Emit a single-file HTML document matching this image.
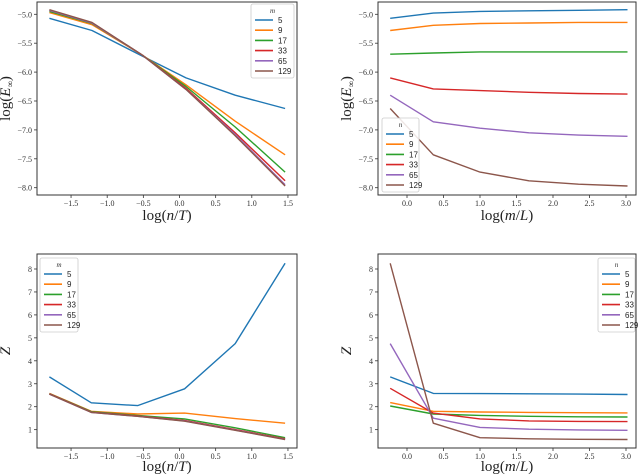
<!DOCTYPE html>
<html><head><meta charset="utf-8"><style>
html,body{margin:0;padding:0;background:#fff;}
svg{display:block;font-family:"Liberation Serif",serif;}
.tick{font-size:8px;fill:#333;}
.lab{font-size:15px;fill:#222;}
.leg{font-size:8px;fill:#222;font-family:"Liberation Sans",sans-serif;}
</style></head><body>
<svg id="chart" width="640" height="475" viewBox="0 0 640 475" xmlns="http://www.w3.org/2000/svg"></svg>
<script>
const colors=["#1f77b4","#ff7f0e","#2ca02c","#d62728","#9467bd","#8c564b"];
const seriesLabels=["5","9","17","33","65","129"];
const xNT=[-1.8,-1.21,-0.52,0.09,0.77,1.46];
const xNTz=[-1.8,-1.22,-0.58,0.07,0.77,1.46];
const xML=[-0.23,0.36,1.0,1.67,2.35,3.02];
const errNT=[
[-5.07,-5.28,-5.72,-6.1,-6.4,-6.63],
[-4.97,-5.18,-5.7,-6.22,-6.85,-7.43],
[-4.95,-5.16,-5.7,-6.25,-6.95,-7.73],
[-4.93,-5.15,-5.7,-6.28,-7.05,-7.88],
[-4.93,-5.15,-5.7,-6.3,-7.08,-7.95],
[-4.92,-5.14,-5.7,-6.3,-7.1,-7.97]];
const errML=[
[-5.07,-4.98,-4.95,-4.94,-4.93,-4.92],
[-5.28,-5.19,-5.16,-5.15,-5.14,-5.14],
[-5.69,-5.67,-5.65,-5.65,-5.65,-5.65],
[-6.1,-6.29,-6.32,-6.35,-6.37,-6.38],
[-6.4,-6.86,-6.97,-7.05,-7.09,-7.11],
[-6.63,-7.43,-7.73,-7.88,-7.94,-7.97]];
const zNT=[
[3.3,2.17,2.05,2.78,4.75,8.25],
[2.58,1.8,1.68,1.72,1.48,1.28],
[2.57,1.78,1.62,1.47,1.08,0.65],
[2.56,1.76,1.6,1.4,1.0,0.6],
[2.55,1.75,1.58,1.38,0.98,0.58],
[2.55,1.75,1.58,1.37,0.97,0.57]];
const zML=[
[3.3,2.58,2.57,2.56,2.55,2.53],
[2.18,1.8,1.77,1.75,1.74,1.73],
[2.03,1.68,1.62,1.58,1.56,1.55],
[2.8,1.72,1.47,1.38,1.36,1.35],
[4.75,1.5,1.1,1.02,0.99,0.97],
[8.25,1.28,0.65,0.6,0.58,0.57]];
const ticksNT=[-1.5,-1.0,-0.5,0.0,0.5,1.0,1.5];
const ticksML=[0.0,0.5,1.0,1.5,2.0,2.5,3.0];
const ticksErr=[-5.0,-5.5,-6.0,-6.5,-7.0,-7.5,-8.0];
const ticksZ=[1,2,3,4,5,6,7,8];

const NS="http://www.w3.org/2000/svg";
const svg=document.getElementById('chart');
function mk(tag,attrs,parent){const e=document.createElementNS(NS,tag);for(const k in attrs)e.setAttribute(k,attrs[k]);(parent||svg).appendChild(e);return e;}

function panel(cfg){
  const g=mk('g',{});
  
  
  const xs=v=>cfg.px0+(v-cfg.vx0)*cfg.kx;
  const ys=v=>cfg.py0-(v-cfg.vy0)*cfg.ky;
  cfg.xticks.forEach(t=>{
    const x=xs(t);
    mk('line',{x1:x,x2:x,y1:cfg.box[3],y2:cfg.box[3]+3,stroke:'#333','stroke-width':0.8},g);
    const tx=mk('text',{x:x,y:cfg.box[3]+11,'text-anchor':'middle',class:'tick'},g);
    tx.textContent=(t<0?'\u2212':'')+Math.abs(t).toFixed(1);
    
    
  });
  cfg.yticks.forEach(t=>{
    const y=ys(t);
    mk('line',{x1:cfg.box[0]-3,x2:cfg.box[0],y1:y,y2:y,stroke:'#333','stroke-width':0.8},g);
    const tx=mk('text',{x:cfg.box[0]-5,y:y+3,'text-anchor':'end',class:'tick'},g);
    tx.textContent=cfg.yfmt(t);
    
    
  });
  cfg.data.forEach((row,i)=>{
    const pts=row.map((v,j)=>xs(cfg.xd[j]).toFixed(1)+','+ys(v).toFixed(1)).join(' ');
    const pl=mk('polyline',{points:pts,fill:'none',stroke:colors[i],'stroke-width':1.4,'stroke-linejoin':'round'},g);
    
    
  });
  const b=cfg.box;
  mk('rect',{x:b[0],y:b[1],width:b[2]-b[0],height:b[3]-b[1],fill:'none',stroke:'#333','stroke-width':1},g);
  const xl=mk('text',{x:(b[0]+b[2])/2,y:b[3]+cfg.xlOff,'text-anchor':'middle',class:'lab'},g);
  xl.innerHTML=cfg.xlab;
  
  
  const yx=b[0]-27, yy=(b[1]+b[3])/2;
  const yl=mk('text',{x:yx,y:yy,'text-anchor':'middle',class:'lab',transform:'rotate(-90 '+yx+' '+yy+')'},g);
  yl.innerHTML=cfg.ylab;
  
  
  const L=cfg.leg;
  const lg=mk('g',{},g);
  
  
  mk('rect',{x:L[0],y:L[1],width:L[2],height:74,rx:2,fill:'#fff','fill-opacity':0.85,stroke:'#ccc','stroke-width':0.8},lg);
  const tt=mk('text',{x:L[0]+L[2]/2,y:L[1]+9,'text-anchor':'middle',style:'font-size:7px;font-style:italic;fill:#333'},lg);
  tt.textContent=cfg.legTitle;
  
  
  seriesLabels.forEach((s,i)=>{
    const y=L[1]+16+i*10.2;
    mk('line',{x1:L[0]+4,x2:L[0]+22,y1:y,y2:y,stroke:colors[i],'stroke-width':1.6},lg);
    const t=mk('text',{x:L[0]+27,y:y+3,class:'leg'},lg);
    t.textContent=s;
    
    
  });
}
const fmtE=t=>'\u2212'+Math.abs(t).toFixed(1);
const fmtZ=t=>String(t);
const labE='log(<tspan font-style="italic">E</tspan><tspan font-size="9" dy="3">\u221E</tspan><tspan dy="-3">)</tspan>';
const labNT='log(<tspan font-style="italic">n</tspan>/<tspan font-style="italic">T</tspan>)';
const labML='log(<tspan font-style="italic">m</tspan>/<tspan font-style="italic">L</tspan>)';
const labZ='<tspan font-style="italic">Z</tspan>';
panel({name:'panel-error-vs-nT',box:[37,2,297,195],px0:179.5,vx0:0,kx:72.3,py0:14.3,vy0:-5,ky:57.8,xlOff:25,
  xticks:ticksNT,yticks:ticksErr,yfmt:fmtE,xd:xNT,data:errNT,xlab:labNT,ylab:labE,leg:[251,4,43],legTitle:'m'});
panel({name:'panel-error-vs-mL',box:[378,2,636,195],px0:407,vx0:0,kx:73,py0:14.3,vy0:-5,ky:57.8,xlOff:25,
  xticks:ticksML,yticks:ticksErr,yfmt:fmtE,xd:xML,data:errML,xlab:labML,ylab:labE,leg:[382,118,37],legTitle:'n'});
panel({name:'panel-z-vs-nT',box:[37,254,297,448],px0:179.5,vx0:0,kx:72.3,py0:269,vy0:8,ky:22.95,xlOff:23,
  xticks:ticksNT,yticks:ticksZ,yfmt:fmtZ,xd:xNTz,data:zNT,xlab:labNT,ylab:labZ,leg:[40,258,38],legTitle:'m'});
panel({name:'panel-z-vs-mL',box:[378,254,636,448],px0:407,vx0:0,kx:73,py0:269,vy0:8,ky:22.95,xlOff:23,
  xticks:ticksML,yticks:ticksZ,yfmt:fmtZ,xd:xML,data:zML,xlab:labML,ylab:labZ,leg:[598,258,37],legTitle:'n'});
</script>
</body></html>
